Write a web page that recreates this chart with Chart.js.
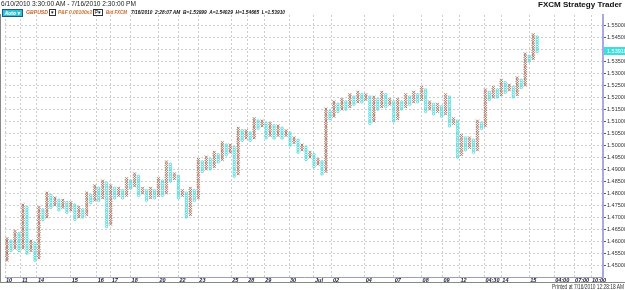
<!DOCTYPE html>
<html><head><meta charset="utf-8">
<script src="https://cdn.jsdelivr.net/npm/chart.js@4/dist/chart.umd.min.js"></script>
<style>
html,body{margin:0;padding:0;background:#fff;}
#wrap{position:relative;width:625px;height:290px;overflow:hidden;font-family:"Liberation Sans",Arial,sans-serif;}
canvas{position:absolute;left:0;top:0;}
.t{position:absolute;white-space:nowrap;line-height:1;transform-origin:0 0;}
.bx{position:absolute;border:1px solid #333;background:#fff;font-size:5px;line-height:5px;text-align:center;color:#000;}
.h2{font-size:5.6px;font-weight:bold;font-style:italic;top:9.5px;}
.or{color:#c46a2c;}
</style></head><body>
<div id="wrap">
<canvas id="c" width="625" height="290"></canvas>
<div class="t" data-w="135" style="left:1px;top:1px;font-size:6.5px;color:#222;">6/10/2010 3:30:00 AM - 7/16/2010 2:30:00 PM</div>
<div class="t" data-w="84" style="left:538px;top:1px;font-size:7.5px;font-weight:bold;color:#111;">FXCM Strategy Trader</div>
<div class="t" style="left:2px;top:9px;width:19px;height:6px;background:#2fc3cf;border:1px solid #1a5a8a;font-size:5px;line-height:6px;font-weight:bold;font-style:italic;color:#fff;">&nbsp;Auto ▾</div>
<div class="t h2 or" data-w="22" style="left:26px;">GBPUSD</div>
<div class="bx" style="left:49px;top:9px;width:5px;height:5px;">▾</div>
<div class="t h2 or" data-w="34" style="left:58px;">P&amp;F 0.00100x3</div>
<div class="bx" style="left:93px;top:9px;width:8px;height:5px;">P▾</div>
<div class="t h2 or" data-w="21" style="left:106px;">Bid FXCM</div>
<div class="t h2" data-w="154" style="left:131px;color:#111;">7/16/2010&nbsp; 2:28:07 AM&nbsp; B=1.53999&nbsp; A=1.54029&nbsp; H=1.54665&nbsp; L=1.53910</div>
<div style="position:absolute;left:0;top:14px;width:1px;height:268px;background:#888;"></div>
<div style="position:absolute;left:0;top:282px;width:625px;height:1px;background:#888;"></div>
<div class="t" data-w="72" style="left:552px;top:283.5px;font-size:6.3px;color:#333;">Printed at 7/16/2010 12:28:18 AM</div>
</div>
<script>
// Point & Figure columns (box 0.001, 3-box reversal). Even index = X column, odd = O column.
const colLow = [1.452,1.456,1.457,1.456,1.457,1.455,1.456,1.452,1.453,1.469,
1.470,1.474,1.475,1.473,1.474,1.472,1.473,1.469,1.470,1.470,
1.471,1.476,1.477,1.477,1.478,1.466,1.467,1.478,1.479,1.478,
1.479,1.482,1.483,1.479,1.480,1.477,1.478,1.478,1.479,1.479,
1.480,1.485,1.486,1.478,1.479,1.470,1.471,1.477,1.478,1.489,
1.490,1.490,1.491,1.493,1.494,1.496,1.497,1.487,1.488,1.502,
1.503,1.502,1.503,1.507,1.508,1.503,1.504,1.503,1.504,1.503,
1.504,1.500,1.501,1.497,1.498,1.494,1.495,1.491,1.492,1.488,
1.489,1.511,1.512,1.514,1.515,1.515,1.516,1.517,1.518,1.518,
1.519,1.509,1.510,1.515,1.516,1.516,1.517,1.510,1.511,1.515,
1.516,1.517,1.518,1.518,1.519,1.514,1.515,1.513,1.514,1.512,
1.513,1.508,1.509,1.495,1.496,1.498,1.499,1.497,1.498,1.507,
1.508,1.519,1.520,1.520,1.521,1.522,1.523,1.520,1.521,1.524,
1.525,1.535,1.536,1.539];
const colHigh = [1.461,1.460,1.464,1.463,1.475,1.474,1.460,1.459,1.474,1.473,
1.480,1.479,1.478,1.477,1.477,1.476,1.476,1.475,1.474,1.473,
1.480,1.479,1.483,1.482,1.485,1.484,1.483,1.482,1.482,1.481,
1.486,1.485,1.488,1.487,1.482,1.481,1.482,1.481,1.486,1.485,
1.493,1.492,1.488,1.487,1.481,1.480,1.482,1.481,1.494,1.493,
1.495,1.494,1.497,1.496,1.501,1.500,1.500,1.499,1.507,1.506,
1.506,1.505,1.511,1.510,1.510,1.509,1.509,1.508,1.508,1.507,
1.506,1.505,1.503,1.502,1.500,1.499,1.497,1.496,1.494,1.493,
1.515,1.514,1.518,1.517,1.519,1.518,1.521,1.520,1.522,1.521,
1.521,1.520,1.520,1.519,1.522,1.521,1.519,1.518,1.519,1.518,
1.521,1.520,1.522,1.521,1.524,1.523,1.518,1.517,1.517,1.516,
1.521,1.520,1.511,1.510,1.504,1.503,1.503,1.502,1.510,1.509,
1.523,1.522,1.524,1.523,1.527,1.526,1.525,1.524,1.528,1.527,
1.538,1.537,1.546,1.545];
const BOX = 0.001;
const xTickPos  = [-0.5, 3.5, 7.5, 16, 22.5, 26, 31, 38, 43, 48, 56.25, 60.25, 64.5, 70.75, 77, 81.5, 89.75, 97, 104, 109.25, 113.5, 119.75, 124, 131, 137.25, 142.25, 146.5];
const xTickText = ["10","11","14","15","16","17","18","20","22","23","25","28","29","30","Jul","02","04","07","08","09","12","04:30","14","15","04:00","07:00","10:00"];
const yTickValues = [1.450,1.455,1.460,1.465,1.470,1.475,1.480,1.485,1.490,1.495,1.500,1.505,1.510,1.515,1.520,1.525,1.530,1.535,1.540,1.545,1.550];
const lastPrice = 1.53910;

// fit header/footer texts to their measured widths
document.querySelectorAll('[data-w]').forEach(el => {
  const w = el.getBoundingClientRect().width;
  const target = parseFloat(el.dataset.w);
  if (w > 0) el.style.transform = 'scaleX(' + (target / w) + ')';
});

const xPts = [], oPts = [];
colLow.forEach((lo, i) => {
  const n = Math.round((colHigh[i] - lo) / BOX);
  for (let k = 0; k <= n; k++) {
    (i % 2 === 0 ? xPts : oPts).push({x: i, y: lo + k * BOX});
  }
});

const priceTag = {
  id: 'priceTag',
  afterDraw(chart) {
    const y = chart.scales.y.getPixelForValue(lastPrice);
    const ctx = chart.ctx;
    ctx.save();
    ctx.fillStyle = '#3fdede';
    ctx.fillRect(604, Math.round(y) - 4, 21, 8);
    ctx.fillStyle = '#ffffff';
    ctx.font = '5.5px "Liberation Sans"';
    ctx.textBaseline = 'middle';
    ctx.fillText(lastPrice.toFixed(5), 607, y);
    ctx.restore();
  }
};

new Chart(document.getElementById('c'), {
  type: 'scatter',
  data: {
    datasets: [
      {data: xPts, pointStyle: 'crossRot', radius: 2, borderColor: '#b07a68', borderWidth: 1, backgroundColor: 'transparent'},
      {data: oPts, pointStyle: 'circle', radius: 1.2, borderColor: '#55dcdc', borderWidth: 1, backgroundColor: 'transparent'}
    ]
  },
  options: {
    responsive: false, animation: false, devicePixelRatio: 1, events: [],
    layout: {padding: {left: 2, top: 15, right: 0, bottom: 8}},
    plugins: {legend: {display: false}, tooltip: {enabled: false}},
    scales: {
      x: {
        type: 'linear', position: 'bottom', min: -0.5, max: 149.5,
        afterBuildTicks: s => { s.ticks = xTickPos.map(v => ({value: v})); },
        afterFit: s => { s.height = 5; },
        ticks: {autoSkip: false, maxRotation: 0, minRotation: 0, align: 'start', labelOffset: 1, padding: 0,
          color: '#223', font: {family: 'Liberation Sans', size: 5.5, weight: 'bold', style: 'italic'},
          callback: (v, i) => xTickText[i]},
        grid: {color: '#cdcdcd', lineWidth: 1, drawTicks: false},
        border: {color: '#9a9ae0', width: 1, dash: [2, 2]}
      },
      y: {
        type: 'linear', position: 'right', min: 1.445, max: 1.5542,
        afterBuildTicks: s => { s.ticks = yTickValues.map(v => ({value: v})); },
        afterFit: s => { s.width = 22; },
        ticks: {padding: 1, color: '#333', font: {family: 'Liberation Sans', size: 5.5},
          callback: v => Number(v).toFixed(5)},
        grid: {color: '#cdcdcd', lineWidth: 1, tickLength: 3, tickColor: '#555'},
        border: {color: '#a8a8e8', width: 2, dash: [2, 2]}
      }
    }
  },
  plugins: [priceTag]
});
</script>
</body></html>
